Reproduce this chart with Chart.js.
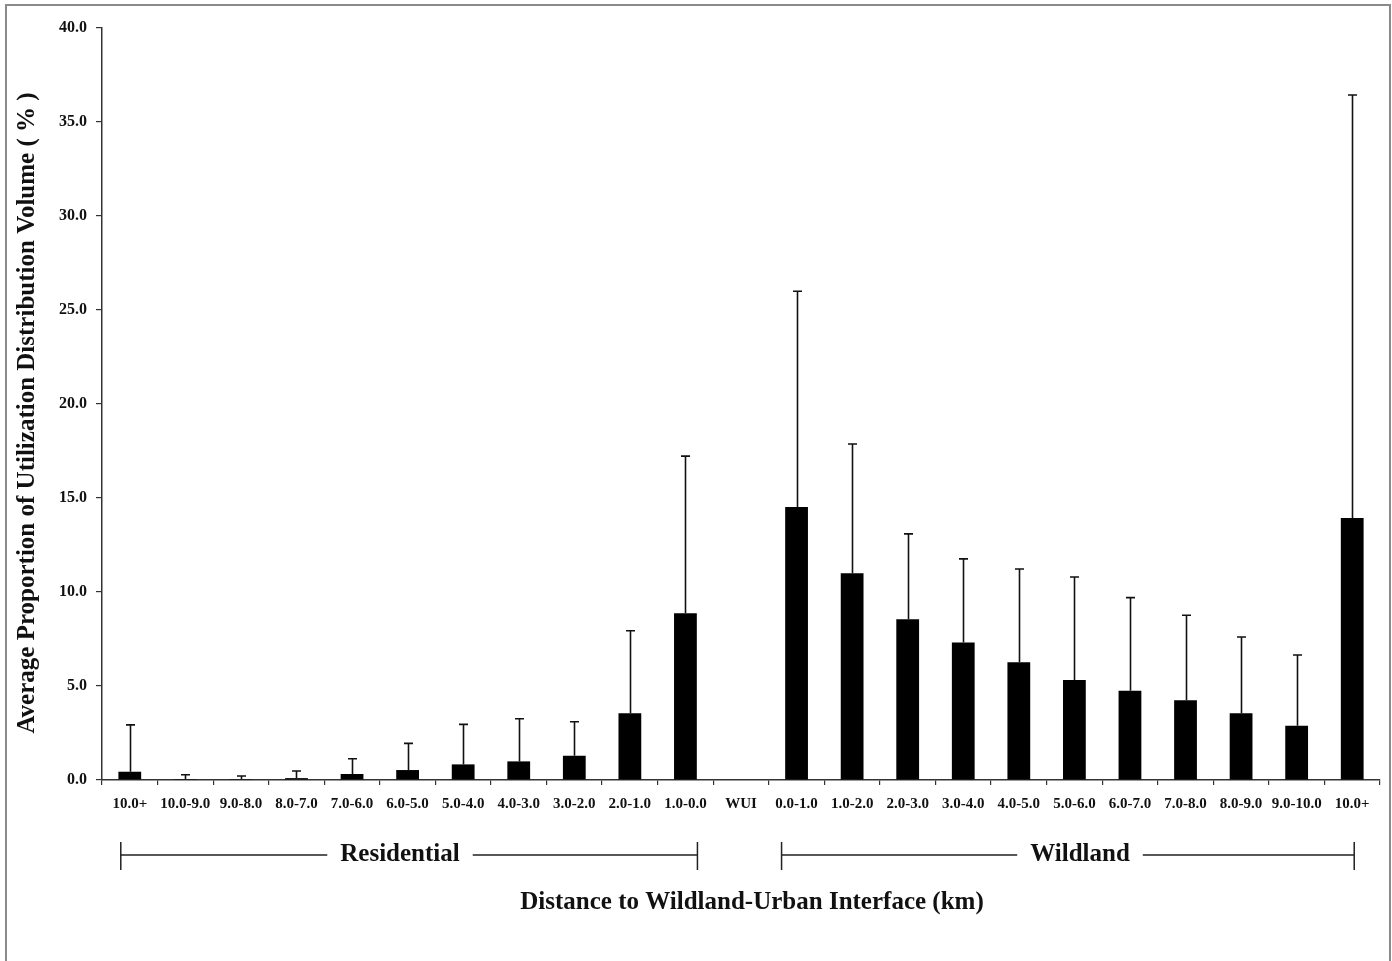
<!DOCTYPE html>
<html><head><meta charset="utf-8">
<script src="https://cdn.jsdelivr.net/npm/chart.js@4/dist/chart.umd.min.js"></script>
<style>html,body{margin:0;padding:0;background:#fff;}</style>
</head><body>
<canvas id="c" width="1392" height="961" style="width:1392px;height:961px;display:block"></canvas>
<script>
const categories = ['10.0+','10.0-9.0','9.0-8.0','8.0-7.0','7.0-6.0','6.0-5.0','5.0-4.0','4.0-3.0','3.0-2.0','2.0-1.0','1.0-0.0','WUI','0.0-1.0','1.0-2.0','2.0-3.0','3.0-4.0','4.0-5.0','5.0-6.0','6.0-7.0','7.0-8.0','8.0-9.0','9.0-10.0','10.0+'];
const meanValues = [0.44,0.05,0.05,0.10,0.32,0.53,0.83,0.99,1.29,3.55,8.87,0,14.52,11.0,8.55,7.32,6.26,5.32,4.75,4.24,3.55,2.89,13.94];
const errorUpper = [2.93,0.28,0.21,0.48,1.13,1.95,2.96,3.26,3.10,7.94,17.23,null,26.0,17.87,13.09,11.76,11.22,10.80,9.70,8.76,7.61,6.65,36.44];
const yTickValues = [0,5,10,15,20,25,30,35,40];
const groupNames = ['Residential','Wildland'];
const groupStart = [0,12];
const groupEnd = [10,22];
const yTitle = 'Average Proportion of Utilization Distribution Volume ( % )';
const xTitle = 'Distance to Wildland-Urban Interface (km)';

const SERIF = '"Liberation Serif","Times New Roman",serif';

const decorPlugin = {
  id: 'decor',
  beforeDraw(chart) {
    const ctx = chart.ctx;
    ctx.save();
    ctx.fillStyle = '#fff';
    ctx.fillRect(0, 0, chart.width, chart.height);
    ctx.strokeStyle = '#8a8a8a';
    ctx.lineWidth = 2;
    ctx.beginPath();
    ctx.moveTo(6, 975); ctx.lineTo(6, 5); ctx.lineTo(1390, 5); ctx.lineTo(1390, 975);
    ctx.stroke();
    ctx.restore();
  },
  afterDatasetsDraw(chart) {
    const ctx = chart.ctx;
    const meta = chart.getDatasetMeta(0);
    const ys = chart.scales.y;
    ctx.save();
    ctx.strokeStyle = '#111';
    ctx.lineWidth = 1.6;
    meta.data.forEach((bar, i) => {
      const top = errorUpper[i];
      if (top === null || top === undefined) return;
      const x = Math.round(bar.x) + 0.5;
      const y0 = ys.getPixelForValue(meanValues[i]);
      const y1 = ys.getPixelForValue(top);
      ctx.beginPath();
      ctx.moveTo(x, y0); ctx.lineTo(x, y1);
      ctx.moveTo(x - 4.5, y1); ctx.lineTo(x + 4.5, y1);
      ctx.stroke();
    });
    ctx.restore();
  },
  afterDraw(chart) {
    const ctx = chart.ctx;
    const xs = chart.scales.x;
    ctx.save();
    const by = 855;
    const leftOff = [-9, -15];
    const rightOff = [12, 2];
    const textCx = [400, 1080];
    ctx.font = 'bold 25px ' + SERIF;
    ctx.strokeStyle = '#222';
    ctx.fillStyle = '#111';
    ctx.lineWidth = 1.5;
    groupNames.forEach((name, g) => {
      const x0 = xs.getPixelForValue(groupStart[g]) + leftOff[g];
      const x1 = xs.getPixelForValue(groupEnd[g]) + rightOff[g];
      const tw = ctx.measureText(name).width;
      const gap = 13;
      const cx = textCx[g];
      ctx.beginPath();
      ctx.moveTo(x0, by); ctx.lineTo(cx - tw / 2 - gap, by);
      ctx.moveTo(cx + tw / 2 + gap, by); ctx.lineTo(x1, by);
      ctx.moveTo(x0, by - 13); ctx.lineTo(x0, by + 15);
      ctx.moveTo(x1, by - 13); ctx.lineTo(x1, by + 15);
      ctx.stroke();
      ctx.textAlign = 'center';
      ctx.textBaseline = 'middle';
      ctx.fillText(name, cx, by);
    });
    ctx.font = 'bold 25px ' + SERIF;
    ctx.textAlign = 'center';
    ctx.textBaseline = 'middle';
    ctx.fillText(xTitle, 752, 903);
    // y axis title
    ctx.translate(28, 413);
    ctx.rotate(-Math.PI / 2);
    ctx.fillText(yTitle, 0, 0);
    ctx.restore();
  }
};

new Chart(document.getElementById('c'), {
  type: 'bar',
  data: {
    labels: categories,
    datasets: [{
      data: meanValues,
      backgroundColor: '#000',
      borderWidth: 0,
      barPercentage: 0.41,
      categoryPercentage: 1.0
    }]
  },
  options: {
    responsive: false,
    animation: false,
    devicePixelRatio: 1,
    layout: { autoPadding: false, padding: { left: 0, right: 12, top: 28, bottom: 0 } },
    plugins: { legend: { display: false }, tooltip: { enabled: false } },
    scales: {
      x: {
        afterFit(s) { s.height = 181; },
        grid: { display: true, drawOnChartArea: false, drawTicks: true, tickLength: 5, color: '#333', lineWidth: 1.2, offset: true },
        border: { display: true, color: '#333', width: 1.5 },
        ticks: { autoSkip: false, maxRotation: 0, minRotation: 0, padding: 10, color: '#111', font: { family: SERIF, size: 15, weight: 'bold' } }
      },
      y: {
        min: 0, max: 40,
        afterFit(s) { s.width = 102; },
        afterBuildTicks(s) { s.ticks = yTickValues.map(v => ({ value: v })); },
        grid: { display: true, drawOnChartArea: false, drawTicks: true, tickLength: 6, color: '#333', lineWidth: 1.2 },
        border: { display: true, color: '#333', width: 1.5 },
        ticks: { padding: 9, color: '#111', font: { family: SERIF, size: 16, weight: 'bold' }, callback: v => Number(v).toFixed(1) },
        title: { display: false }
      }
    }
  },
  plugins: [decorPlugin]
});
</script>
</body></html>
